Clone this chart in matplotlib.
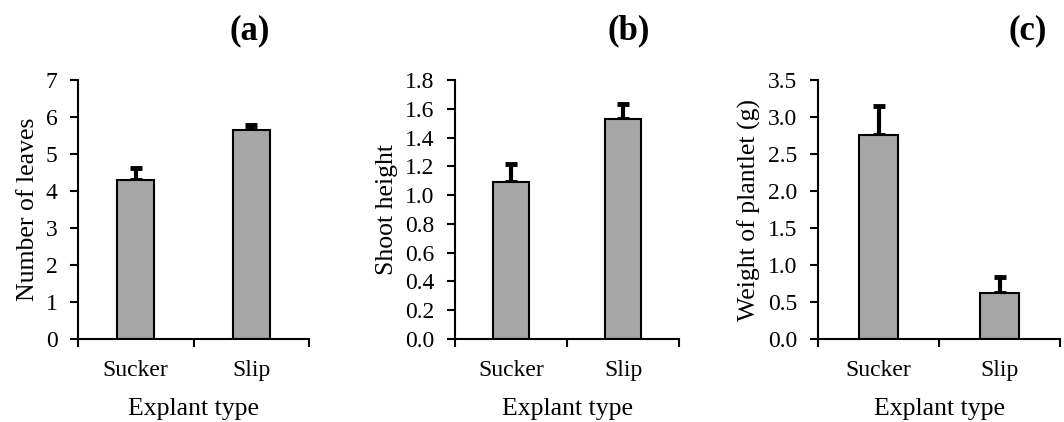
import matplotlib
matplotlib.use("Agg")
import matplotlib.pyplot as plt
import numpy as np

plt.rcParams['font.family'] = ['Liberation Serif', 'DejaVu Serif']

categories = ["Sucker", "Slip"]
leaves = [4.29, 5.65]
leaves_se = [0.32, 0.13]
shoot = [1.09, 1.53]
shoot_se = [0.125, 0.105]
weight = [2.76, 0.62]
weight_se = [0.39, 0.22]

panels = [
    dict(vals=leaves, se=leaves_se, ylabel="Number of leaves", ylim=7, step=1, fmt="{:.0f}", title="(a)",
         rect=[78/1064, 1-339/422, 231/1064, 259/422], title_x=250/1064),
    dict(vals=shoot, se=shoot_se, ylabel="Shoot height", ylim=1.8, step=0.2, fmt="{:.1f}", title="(b)",
         rect=[455/1064, 1-339/422, 224/1064, 259/422], title_x=629/1064),
    dict(vals=weight, se=weight_se, ylabel="Weight of plantlet (g)", ylim=3.5, step=0.5, fmt="{:.1f}", title="(c)",
         rect=[818/1064, 1-339/422, 242/1064, 259/422], title_x=1028/1064),
]

fig = plt.figure(figsize=(10.64, 4.22), dpi=100)
for p in panels:
    ax = fig.add_axes(p["rect"])
    x = np.arange(len(categories))
    ax.bar(x, p["vals"], width=0.32, color="#a6a6a6", edgecolor="black", linewidth=1.5, zorder=2)
    ax.errorbar(x, p["vals"], yerr=[np.zeros(len(x)), p["se"]], fmt="none", ecolor="black",
                elinewidth=3, capsize=4.5, capthick=3.5, zorder=1)
    ax.set_xlim(-0.5, len(categories) - 0.5)
    ax.set_ylim(0, p["ylim"])
    ticks = np.arange(0, p["ylim"] + p["step"] / 2, p["step"])
    ax.set_yticks(ticks)
    ax.set_yticklabels([p["fmt"].format(t) for t in ticks])
    ax.set_xticks(np.arange(-0.5, len(categories), 1.0))
    ax.set_xticklabels([])
    ax.set_xticks(x, minor=True)
    ax.set_xticklabels(categories, minor=True)
    ax.tick_params(axis="x", which="minor", length=0, pad=15, labelsize=17)
    ax.tick_params(axis="x", which="major", length=5.8, width=1.5, direction="out")
    ax.tick_params(axis="y", length=5.8, width=1.5, direction="out", labelsize=17, pad=9)
    for s in ["top", "right"]:
        ax.spines[s].set_visible(False)
    for s in ["left", "bottom"]:
        ax.spines[s].set_linewidth(1.5)
    ax.set_ylabel(p["ylabel"], fontsize=18.5, labelpad=5)
    ax.set_xlabel("Explant type", fontsize=18.5, labelpad=12)
    ax.set_facecolor("none")
    fig.text(p["title_x"], 1 - 31/422, p["title"], fontsize=25, fontweight="bold",
             ha="center", va="center")

fig.savefig("out.png", dpi=100)
